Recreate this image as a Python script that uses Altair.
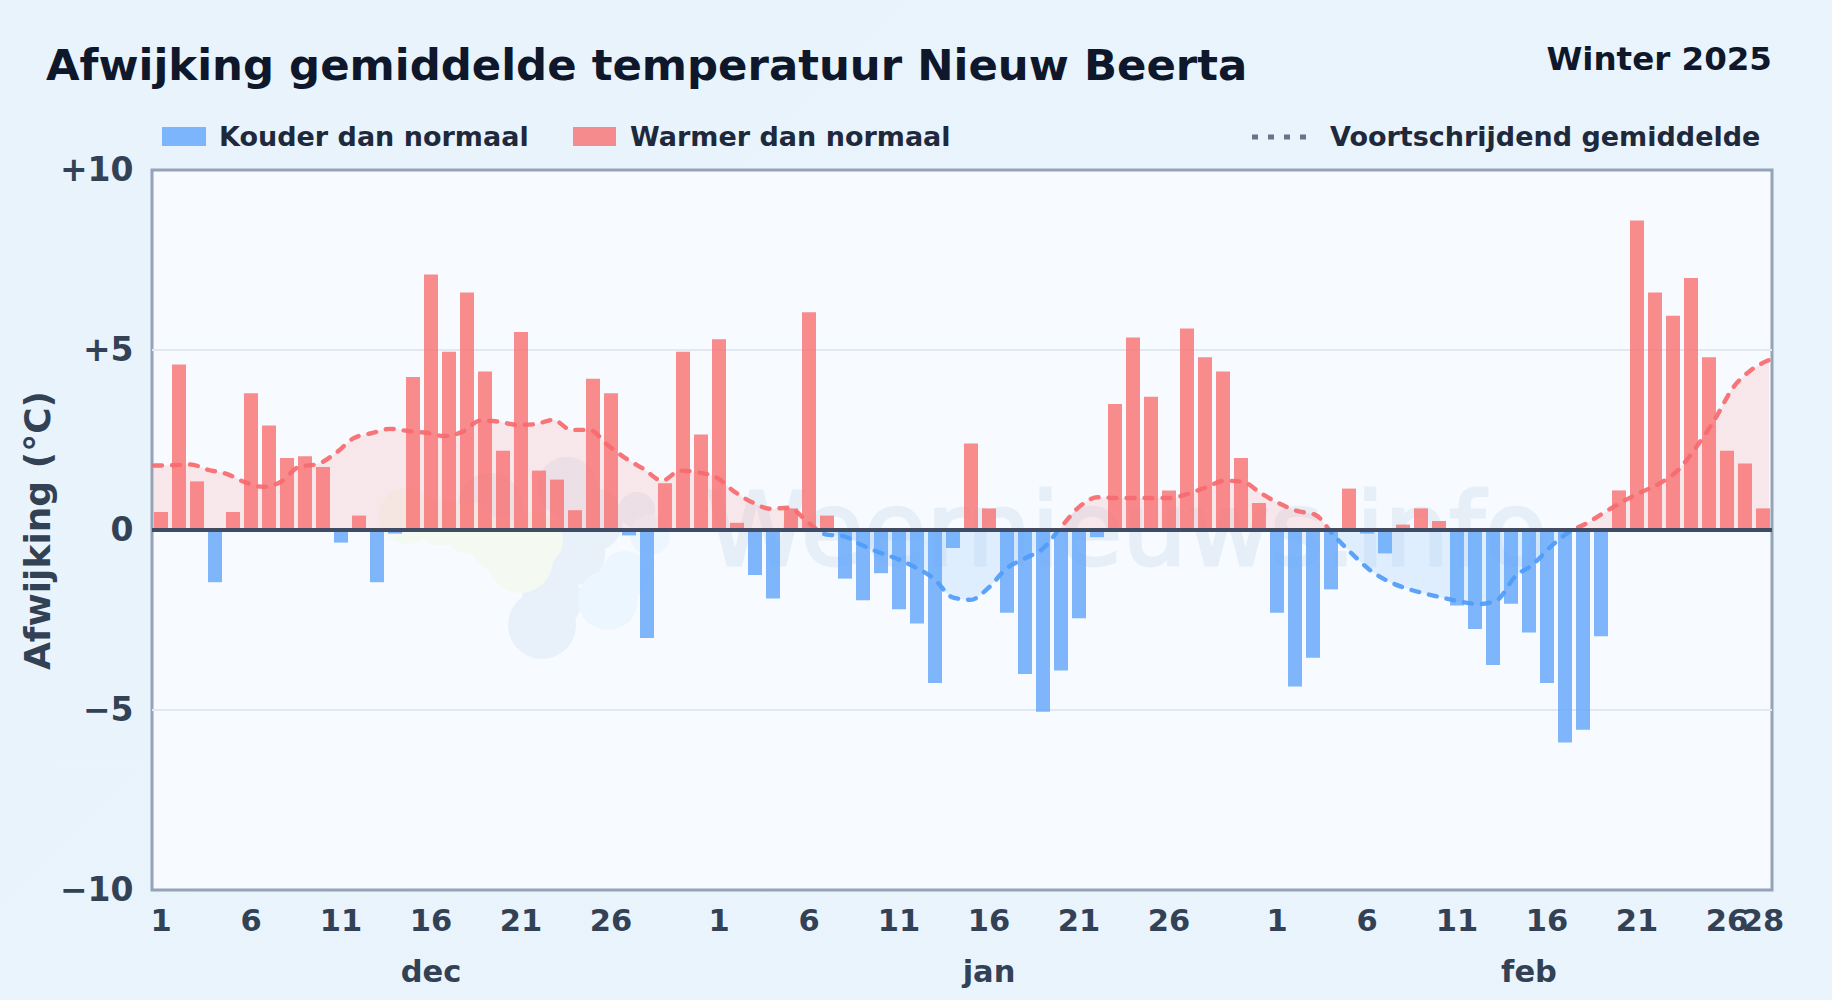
import altair as alt
import pandas as pd

TITLE = ["Afwijking gemiddelde temperatuur Nieuw Beerta"]
SUBTITLE = ["Winter 2025"]
LEG_COLD = ["Kouder dan normaal"]
LEG_WARM = ["Warmer dan normaal"]
LEG_AVG = ["Voortschrijdend gemiddelde"]
WATERMARK = ["Weernieuws.info"]
MONTHS = ["dec", "jan", "feb"]
MONTH_POS = [15, 46, 76]
TICK_POS = [0, 5, 10, 15, 20, 25, 31, 36, 41, 46, 51, 56, 62, 67, 72, 77, 82, 87, 89]
GRID_VALUES = [-5, 5]

DEVIATION = [
    0.5, 4.6, 1.35, -1.45, 0.5, 3.8, 2.9, 2.0, 2.05, 1.75, -0.35, 0.4, -1.45, -0.1, 4.25, 7.1,
    4.95, 6.6, 4.4, 2.2, 5.5, 1.65, 1.4, 0.55, 4.2, 3.8, -0.15, -3.0, 1.3, 4.95, 2.65,
    5.3, 0.2, -1.25, -1.9, 0.6, 6.05, 0.4, -1.35, -1.95, -1.2, -2.2, -2.6, -4.25, -0.5, 2.4,
    0.6, -2.3, -4.0, -5.05, -3.9, -2.45, -0.2, 3.5, 5.35, 3.7, 1.1, 5.6, 4.8, 4.4, 2.0, 0.75,
    -2.3, -4.35, -3.55, -1.65, 1.15, -0.1, -0.65, 0.15, 0.6, 0.25, -2.1, -2.75, -3.75, -2.05,
    -2.85, -4.25, -5.9, -5.55, -2.95, 1.1, 8.6, 6.6, 5.95, 7.0, 4.8, 2.2, 1.85, 0.6,
]
DAY_LABELS = [1, 6, 11, 16, 21, 26, 1, 6, 11, 16, 21, 26, 1, 6, 11, 16, 21, 26, 28]
MOVING_AVG = [
    1.79, 1.80, 1.82, 1.67, 1.56, 1.33, 1.20, 1.34, 1.76, 1.83, 2.13, 2.55, 2.69, 2.81, 2.75,
    2.70, 2.61, 2.73, 3.04, 3.01, 2.92, 2.94, 3.06, 2.78, 2.78, 2.36, 1.99, 1.69, 1.37, 1.65,
    1.60, 1.46, 1.06, 0.76, 0.59, 0.62, 0.23, -0.12, -0.17, -0.42, -0.63, -0.81, -1.05, -1.36,
    -1.87, -1.94, -1.60, -1.06, -0.79, -0.51, 0.09, 0.65, 0.91, 0.89, 0.89, 0.89, 0.89, 1.01,
    1.19, 1.37, 1.34, 1.02, 0.74, 0.53, 0.42, -0.14, -0.65, -1.11, -1.42, -1.62, -1.76, -1.88,
    -1.99, -2.06, -1.95, -1.30, -0.95, -0.45, -0.05, 0.20, 0.51, 0.81, 1.06, 1.30, 1.67, 2.31,
    3.06, 3.94, 4.44, 4.72,
]

W, H = 1620, 720
FONT = "DejaVu Sans"
BAR_OPACITY = 0.8
LABEL = "#334155"

df = pd.DataFrame({"i": range(len(DEVIATION)), "v": DEVIATION, "m": MOVING_AVG})
df["zero"] = 0
df["kind"] = ["warm" if v >= 0 else "cold" for v in DEVIATION]

labels_expr = "{" + ",".join(f"'{p}':'{d}'" for p, d in zip(TICK_POS, DAY_LABELS)) + "}[datum.value]"
x_band = alt.X(
    "i:O",
    scale=alt.Scale(paddingInner=0.222, paddingOuter=0.111),
    axis=alt.Axis(
        title=None, values=TICK_POS, labelExpr=labels_expr, labelAngle=0, labelOverlap=False,
        labelFontSize=30.5, labelFontWeight="bold", labelFont=FONT, labelColor=LABEL,
        labelPadding=16, ticks=False, domain=False, grid=False, labelBound=False, labelFlush=False,
    ),
)
y_scale = alt.Scale(domain=[-10, 10], nice=False)
y_axis = alt.Axis(
    values=[-10, -5, 0, 5, 10], title="Afwijking (°C)", titleFontSize=36, titleFont=FONT,
    titleFontWeight="bold", titleColor=LABEL, titlePadding=2,
    labelExpr="datum.value>0?'+'+datum.value:(datum.value<0?'\u2212'+abs(datum.value):'0')",
    labelFontSize=33, labelFontWeight="bold", labelFont=FONT, labelColor=LABEL, labelPadding=19,
    ticks=False, domain=False, grid=False,
)

bars = alt.Chart(df).mark_bar(opacity=BAR_OPACITY).encode(
    x=x_band, y=alt.Y("v:Q", scale=y_scale, axis=y_axis), y2="zero:Q",
    color=alt.Color("kind:N", scale=alt.Scale(domain=["cold", "warm"], range=["#60a5fa", "#f87171"]), legend=None),
)
months = alt.Chart(pd.DataFrame({"i": MONTH_POS, "t": MONTHS})).mark_text(
    font=FONT, fontSize=30.5, fontWeight="bold", color=LABEL, baseline="alphabetic"
).encode(x=x_band, y=alt.value(812), text="t:N")
band_layer = alt.layer(bars, months)

x_line = alt.X("i:Q", scale=alt.Scale(domain=[0, 89], range=[2, 1617], nice=False, zero=False), axis=None)
zero_off = max(MOVING_AVG) / (max(MOVING_AVG) - min(MOVING_AVG))
def grad(red, blue):
    return alt.LinearGradient(
        gradient="linear", x1=0, x2=0, y1=0, y2=1,
        stops=[
            alt.GradientStop(color=red, offset=0),
            alt.GradientStop(color=red, offset=zero_off),
            alt.GradientStop(color=blue, offset=zero_off),
            alt.GradientStop(color=blue, offset=1),
        ],
    )
grid = alt.Chart(pd.DataFrame({"y": GRID_VALUES})).mark_rule(color="#e2e8f0", strokeWidth=2).encode(
    y=alt.Y("y:Q", scale=y_scale, axis=y_axis), x=alt.value(0), x2=alt.value(W)
)
area = alt.Chart(df).mark_area(interpolate="monotone", fill=grad("#f9a8a8", "#93c5fd"), opacity=0.24).encode(
    x=x_line, y=alt.Y("m:Q", scale=y_scale, axis=y_axis), y2="zero:Q",
)
line = alt.Chart(df).mark_line(
    interpolate="monotone", stroke=grad("#f76a6e", "#4f9cf9"), strokeWidth=4.4,
    strokeDash=[8, 10], strokeCap="round", opacity=0.92,
).encode(x=x_line, y=alt.Y("m:Q", scale=y_scale, axis=y_axis))
zero_rule = alt.Chart(pd.DataFrame({"y": [0]})).mark_rule(color="#3f4c63", strokeWidth=4).encode(
    y=alt.Y("y:Q", scale=y_scale, axis=y_axis), x=alt.value(0), x2=alt.value(W)
)

def text(content, px, py, size, color, align="left", weight="bold", opacity=1.0, **kw):
    return alt.Chart(pd.DataFrame({"t": content})).mark_text(
        font=FONT, fontSize=size, fontWeight=weight, color=color, align=align,
        baseline="alphabetic", opacity=opacity, **kw
    ).encode(x=alt.value(px), y=alt.value(py), text="t:N")

def blob(rx, ry, r, color):
    return alt.Chart(pd.DataFrame({"k": [1]})).mark_point(
        shape="circle", filled=True, color=color, opacity=1, size=(2 * r) ** 2
    ).encode(x=alt.value(rx - 152), y=alt.value(ry - 170))

GREY, PALEB, YEL = "#e8f0f9", "#ecf6fe", "#f4f9f2"
logo = [
    blob(490, 505, 32, GREY), blob(567, 487, 30, GREY), blob(590, 520, 33, GREY), blob(575, 555, 30, GREY),
    blob(542, 625, 34, GREY), blob(552, 600, 30, GREY), blob(637, 510, 18, GREY),
    blob(650, 535, 20, PALEB), blob(625, 575, 24, PALEB), blob(608, 600, 30, PALEB),
    blob(407, 516, 28, YEL), blob(440, 522, 24, YEL), blob(470, 528, 26, YEL), blob(500, 545, 28, YEL),
    blob(520, 560, 33, YEL), blob(535, 540, 28, YEL),
]

watermark = text(WATERMARK, 554, 395, 102, "#4a7fb5", weight="normal", opacity=0.09,
                 stroke="#4a7fb5", strokeWidth=3)
title = text(TITLE, -106, -90, 43.4, "#0f172a")
subtitle = text(SUBTITLE, 1620, -100, 32.5, "#0f172a", align="right")
leg1 = text(LEG_COLD, 67, -24, 27, "#1e293b")
leg2 = text(LEG_WARM, 478, -24, 27, "#1e293b")
leg3 = text(LEG_AVG, 1178, -24, 27, "#1e293b")

def swatch(color, x0, x1):
    return alt.Chart(pd.DataFrame({"k": [1]})).mark_rect(color=color, opacity=BAR_OPACITY).encode(
        x=alt.value(x0), x2=alt.value(x1), y=alt.value(-43), y2=alt.value(-24))
sw1 = swatch("#60a5fa", 10, 54)
sw2 = swatch("#f87171", 421, 464)
leg_line = alt.Chart(pd.DataFrame({"k": [1]})).mark_rule(
    color="#64748b", strokeWidth=5, strokeDash=[6, 10]
).encode(x=alt.value(1100), x2=alt.value(1155), y=alt.value(-33))

chart = alt.layer(
    *logo, grid, watermark, area, band_layer, line, zero_rule, title, subtitle, sw1, sw2, leg_line, leg1, leg2, leg3,
).resolve_scale(x="independent").properties(
    width=W, height=H,
    autosize=alt.AutoSizeParams(type="none"),
    padding={"left": 144, "top": 162, "right": 52, "bottom": 102},
    background="transparent",
).configure_view(fill="#f7fbff", stroke="#94a3b8", strokeWidth=3)

CSS = "html{background:linear-gradient(135deg,#e8f3fc,#eaf4fc);min-height:100%;overflow:hidden}body{background:transparent}"
chart.save("out.html", embed_options={"renderer": "svg", "actions": False, "defaultStyle": CSS})
